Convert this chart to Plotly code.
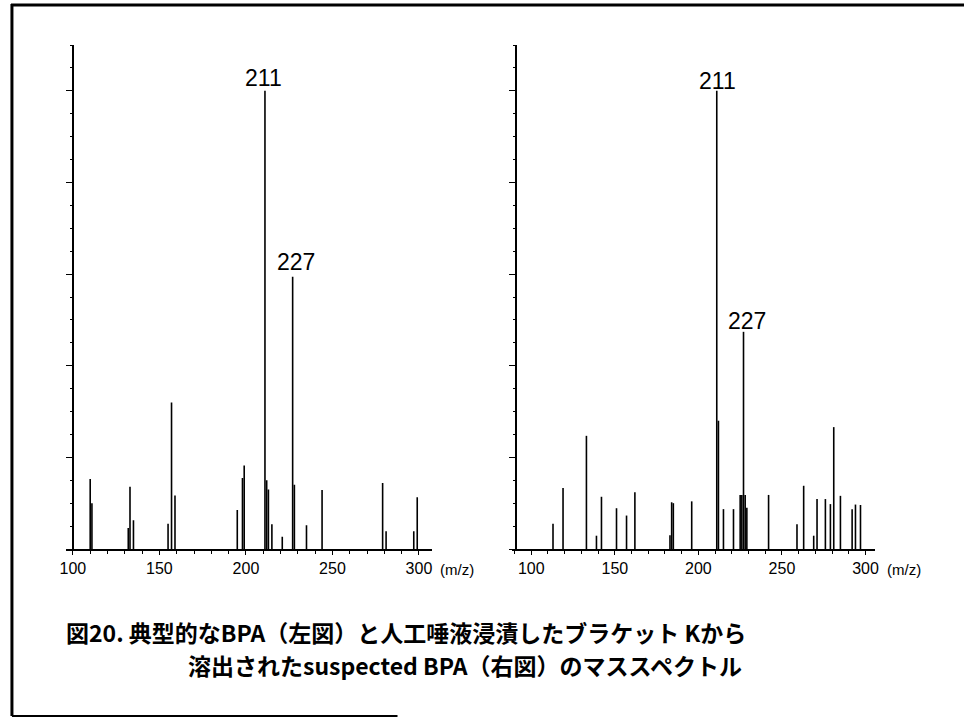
import plotly.graph_objects as go

# ---- data (m/z, relative intensity %) ----
left_mz = [110, 111, 132, 133, 135, 155, 157, 159, 195, 198, 199, 211, 212, 213, 215, 221,
           227, 228, 235, 244, 279, 281, 297, 299]
left_int = [15.3, 10.0, 4.6, 13.6, 6.3, 5.5, 32.0, 11.7, 8.5, 15.5, 18.2, 100.0, 15.0, 13.0, 5.4, 2.7,
            59.4, 14.0, 5.2, 12.9, 14.4, 3.9, 3.9, 11.3]

right_mz = [113, 119, 133, 139, 142, 151, 157, 162, 183, 184, 185, 196, 211, 212, 215, 221,
            225, 226, 227, 228, 229, 242, 259, 263, 269, 271, 276, 279, 281, 285, 292, 294, 297]
right_int = [5.5, 13.3, 24.7, 2.9, 11.4, 8.9, 7.3, 12.4, 3.0, 10.2, 10.0, 10.4, 100.0, 28.0, 8.7, 8.7,
             11.8, 11.8, 47.4, 11.8, 9.0, 11.8, 5.4, 13.8, 2.9, 10.9, 10.9, 9.8, 26.6, 11.6, 8.7, 9.7, 9.6]

x_ticks = [100, 150, 200, 250, 300]
x_ticktext = ["100", "150", "200", "250", "300"]
peak_labels = [211, 227]

caption_line1 = "図20. 典型的なBPA（左図）と人工唾液浸漬したブラケット Kから"
caption_line2 = "溶出されたsuspected BPA（右図）のマススペクトル"

W, H = 968, 720


def sticks(mz, inten):
    xs, ys = [], []
    for m, v in zip(mz, inten):
        xs += [m, m, None]
        ys += [0, v, None]
    return xs, ys


fig = go.Figure()
lx, ly = sticks(left_mz, left_int)
rx, ry = sticks(right_mz, right_int)
fig.add_trace(go.Scatter(x=lx, y=ly, mode="lines", line=dict(color="black", width=1.6),
                         xaxis="x", yaxis="y", showlegend=False, hoverinfo="skip"))
fig.add_trace(go.Scatter(x=rx, y=ry, mode="lines", line=dict(color="black", width=1.6),
                         xaxis="x2", yaxis="y2", showlegend=False, hoverinfo="skip"))

tickfont = dict(family="Liberation Sans, Arial, sans-serif", size=16, color="black")
xcommon = dict(showline=True, linecolor="black", linewidth=1.5, ticks="outside", ticklen=4,
               tickwidth=1, tickcolor="black", tickvals=x_ticks, ticktext=x_ticktext,
               tickfont=tickfont, showgrid=False, zeroline=False, fixedrange=True,
               minor=dict(dtick=10, tick0=100, ticks="outside", ticklen=3, tickcolor="black", showgrid=False))
ycommon = dict(showline=True, linecolor="black", linewidth=2, ticks="outside", ticklen=6,
               tickwidth=1, tickcolor="black", tickvals=[0, 20, 40, 60, 80, 100],
               showticklabels=False, showgrid=False, zeroline=False, range=[0, 110], fixedrange=True,
               minor=dict(dtick=5, tick0=0, ticks="outside", ticklen=2, tickcolor="black", showgrid=False))

ydom = [(H - 549) / H, (H - 45) / H]
fig.update_layout(
    width=W, height=H, margin=dict(l=0, r=0, t=0, b=0),
    paper_bgcolor="white", plot_bgcolor="white", showlegend=False,
    xaxis=dict(domain=[60 / W, 430 / W], range=[96.2, 307.6], anchor="y", **xcommon),
    yaxis=dict(domain=ydom, anchor="free", position=67 / W, **ycommon),
    xaxis2=dict(domain=[510.7 / W, 878 / W], range=[88.4, 305.7], anchor="y2", **xcommon),
    yaxis2=dict(domain=ydom, anchor="free", position=515 / W, **ycommon),
)

labfont = dict(family="Liberation Sans, Arial, sans-serif", size=23, color="black")
left_lookup = dict(zip(left_mz, left_int))
right_lookup = dict(zip(right_mz, right_int))
fig.add_annotation(x=peak_labels[0], y=left_lookup[peak_labels[0]], xref="x", yref="y",
                   text=str(peak_labels[0]), showarrow=False, font=labfont,
                   yanchor="middle", yshift=13, xshift=-1)
fig.add_annotation(x=peak_labels[1], y=left_lookup[peak_labels[1]], xref="x", yref="y",
                   text=str(peak_labels[1]), showarrow=False, font=labfont,
                   yanchor="middle", yshift=15, xshift=3)
fig.add_annotation(x=peak_labels[0], y=right_lookup[peak_labels[0]], xref="x2", yref="y2",
                   text=str(peak_labels[0]), showarrow=False, font=labfont,
                   yanchor="middle", yshift=10, xshift=1)
fig.add_annotation(x=peak_labels[1], y=right_lookup[peak_labels[1]], xref="x2", yref="y2",
                   text=str(peak_labels[1]), showarrow=False, font=labfont,
                   yanchor="middle", yshift=11, xshift=3)

for xp in (436, 888):
    fig.add_annotation(x=xp / W, y=(H - 569) / H, xref="paper", yref="paper", text="(m/z)",
                       showarrow=False, font=dict(family="Liberation Sans, Arial, sans-serif", size=15, color="black"),
                       xanchor="left", yanchor="middle")

capfont = dict(family="Noto Sans CJK JP, sans-serif", size=23, color="black", weight="bold")
fig.add_annotation(x=58 / W, y=(H - 632) / H, xref="paper", yref="paper", text=caption_line1,
                   showarrow=False, font=capfont, xanchor="left", yanchor="middle")
fig.add_annotation(x=181 / W, y=(H - 665) / H, xref="paper", yref="paper", text=caption_line2,
                   showarrow=False, font=capfont, xanchor="left", yanchor="middle")

# frame lines
fig.add_shape(type="line", xref="paper", yref="paper", x0=4 / W, x1=1, y0=(H - 5) / H, y1=(H - 5) / H,
              line=dict(color="black", width=3))
fig.add_shape(type="line", xref="paper", yref="paper", x0=5 / W, x1=5 / W, y0=(H - 4) / H, y1=(H - 716) / H,
              line=dict(color="black", width=3))
fig.add_shape(type="line", xref="paper", yref="paper", x0=5 / W, x1=395 / W, y0=(H - 716) / H, y1=(H - 716) / H,
              line=dict(color="black", width=2))

fig.write_html("out.html")
